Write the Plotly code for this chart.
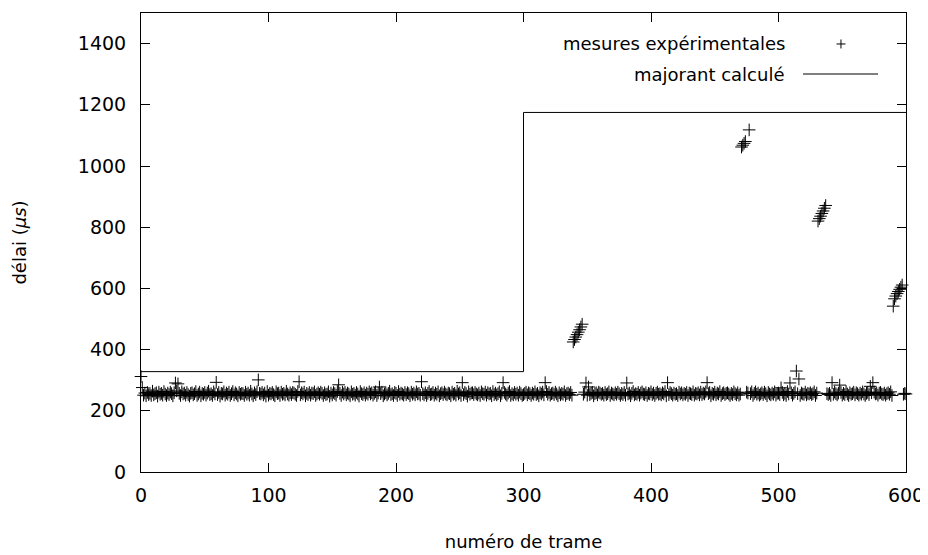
import plotly.graph_objects as go

# ---- data -------------------------------------------------------------
frames = list(range(0, 601))

band = [
    262,255,251,258,249,260,253,257,250,264,252,256,259,248,261,254,257,251,263,255,
    250,258,253,261,256,249,259,252,265,254,257,250,262,255,258,251,260,253,248,257,
    259,252,256,263,250,255,261,249,257,254,260,251,258,264,253,256,250,262,255,259,
    253,260,248,257,255,262,251,258,254,261,250,256,263,252,259,255,249,260,254,257,
    256,250,261,254,258,251,264,255,249,259,253,262,250,257,255,260,252,258,248,263,
    251,257,255,260,253,249,262,256,258,250,261,254,257,252,264,255,251,259,253,260,
    258,254,250,263,256,252,259,255,261,249,257,253,260,251,258,256,262,250,255,259,
    254,261,257,250,259,253,255,262,248,258,252,260,256,251,263,254,257,250,261,255,
    260,252,258,255,249,262,254,257,251,260,255,248,263,256,253,259,251,258,254,262,
    255,259,251,257,262,250,258,253,256,261,249,255,259,252,257,264,253,256,250,260,
    257,250,263,254,258,255,251,260,253,259,256,249,261,254,258,252,262,255,257,251,
    261,256,252,259,250,257,263,253,255,260,251,258,254,262,249,256,259,253,261,255,
    252,258,256,249,261,254,257,251,264,255,259,250,257,253,260,256,248,262,254,258,
    259,253,260,255,252,258,250,262,256,254,261,251,259,255,257,249,263,253,258,252,
    256,262,249,257,254,260,255,251,258,263,250,256,252,260,254,258,251,261,256,250,
    253,257,261,252,259,256,250,258,254,262,253,257,249,259,255,261,252,256,263,254,
    260,251,256,258,253,261,255,249,259,252,257,254,262,250,256,258,253,260,251,257,
    255,259,252,262,256,250,258,254,261,255,251,263,253,257,260,249,256,259,252,261,
    258,254,257,251,260,253,256,262,250,258,255,252,259,254,261,256,250,257,253,260,
    251,260,255,258,249,257,263,252,256,254,260,251,258,262,255,253,259,250,257,255,
    262,253,258,250,257,261,254,256,252,259,255,263,249,257,253,260,256,251,258,254,
    256,250,261,255,259,252,257,254,260,250,258,256,253,262,251,257,255,259,252,261,
    253,258,255,262,251,256,260,249,257,254,261,252,258,255,263,250,256,259,253,257,
    259,255,250,257,253,262,256,252,259,251,255,260,254,257,250,261,258,253,256,262,
    250,257,262,254,258,251,255,259,253,261,256,249,260,255,252,258,254,262,251,257,
    258,253,256,260,252,257,250,263,255,254,259,251,257,262,253,256,260,250,258,255,
    254,261,252,257,255,259,253,256,262,250,258,254,260,252,257,255,249,261,256,253,
    257,250,259,254,261,256,252,258,255,260,251,257,253,263,255,250,259,254,256,261,
    252,259,256,251,258,254,262,255,250,257,260,253,256,259,252,261,255,257,251,258,
    260,255,253,258,251,256,259,254,262,250,257,255,261,252,258,256,253,260,254,257,
    255,
]

# isolated high points within the band
spike_frames = [0, 1, 27, 29, 59, 92, 124, 155, 187, 220, 252, 284, 317, 349, 351,
                381, 413, 444, 502, 509, 514, 516, 542, 548, 572, 574]
spike_values = [312, 276, 291, 288, 293, 301, 295, 285, 278, 295, 292, 292, 292, 291, 278,
                291, 292, 292, 275, 291, 330, 304, 292, 284, 280, 292]

# bursts (rising groups)
burst_frames = [339, 340, 341, 342, 343, 344, 345, 346,
                471, 472, 473, 474, 477,
                531, 532, 533, 534, 535, 536, 537,
                590, 591, 592, 593, 594, 595, 596, 597]
burst_values = [425, 433, 441, 449, 457, 465, 474, 483,
                1062, 1068, 1074, 1080, 1118,
                820, 828, 836, 845, 853, 862, 871,
                542, 566, 575, 583, 590, 597, 604, 611]

# computed upper bound (step)
bound_x = [0, 300, 300, 600]
bound_y = [328, 328, 1175, 1175]

x_ticks = [0, 100, 200, 300, 400, 500, 600]
y_ticks = [0, 200, 400, 600, 800, 1000, 1200, 1400]

# ---- assemble measurements ---------------------------------------------
delays = list(band)
for f, v in zip(spike_frames, spike_values):
    delays[f] = v
for f, v in zip(burst_frames, burst_values):
    delays[f] = v

FONT = "DejaVu Sans"
TXT = 18
TICK = 19

fig = go.Figure()
fig.add_trace(go.Scatter(
    x=frames, y=delays, mode="markers", name="mesures expérimentales",
    marker=dict(symbol="cross-thin", size=9, color="black",
                line=dict(width=1, color="black")),
    showlegend=False, cliponaxis=False,
))
fig.add_trace(go.Scatter(
    x=bound_x, y=bound_y, mode="lines", name="majorant calculé",
    line=dict(color="black", width=1), showlegend=False,
))

# ---- gnuplot-like legend (text on the left, sample on the right) -------
fig.add_annotation(xref="paper", yref="paper", x=0.8444, y=0.9325,
                   text="mesures expérimentales", showarrow=False,
                   xanchor="right", yanchor="middle",
                   font=dict(family=FONT, size=TXT, color="black"))
fig.add_annotation(xref="paper", yref="paper", x=0.8444, y=0.8671,
                   text="majorant calculé", showarrow=False,
                   xanchor="right", yanchor="middle",
                   font=dict(family=FONT, size=TXT, color="black"))
# plus sample
fig.add_shape(type="line", xref="paper", yref="paper",
              x0=0.9092, x1=0.9209, y0=0.9325, y1=0.9325,
              line=dict(color="black", width=1))
fig.add_shape(type="line", xref="paper", yref="paper",
              x0=0.915, x1=0.915, y0=0.9227, y1=0.9423,
              line=dict(color="black", width=1))
# line sample
fig.add_shape(type="line", xref="paper", yref="paper",
              x0=0.8654, x1=0.9634, y0=0.8671, y1=0.8671,
              line=dict(color="black", width=1))

axis_common = dict(
    showline=True, linecolor="black", linewidth=1, mirror="ticks",
    ticks="inside", ticklen=9, tickcolor="black", tickwidth=1,
    showgrid=False, zeroline=False,
    tickfont=dict(family=FONT, size=TICK, color="black"),
)

fig.update_xaxes(
    range=[0, 600], tickvals=x_ticks, ticktext=[str(t) for t in x_ticks],
    title=dict(text="numéro de trame", font=dict(family=FONT, size=TXT, color="black"),
               standoff=30),
    ticklabelstandoff=6,
    **axis_common,
)
fig.update_yaxes(
    range=[0, 1500], tickvals=y_ticks, ticktext=[str(t) for t in y_ticks],
    title=dict(text="délai (<i>μs</i>)", font=dict(family=FONT, size=TXT, color="black"),
               standoff=46),
    ticklabelstandoff=10,
    **axis_common,
)

# the page body has an 8px margin: size and margins compensate for it
fig.update_layout(
    width=920, height=547,
    margin=dict(l=133, r=22, t=5, b=83, autoexpand=False),
    plot_bgcolor="white", paper_bgcolor="white",
    font=dict(family=FONT, size=TXT, color="black"),
)

fig.write_html("out.html")
